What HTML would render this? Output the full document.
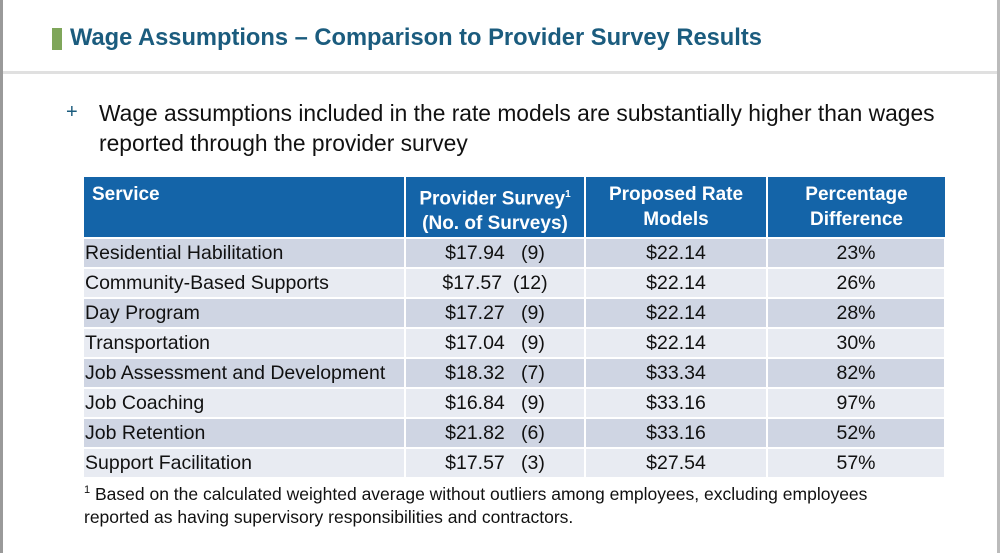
<!DOCTYPE html>
<html><head><meta charset="utf-8"><style>
body{margin:0;width:1000px;height:553px;background:#fff;position:relative;overflow:hidden;font-family:"Liberation Sans",sans-serif}
.abs{position:absolute}
table{border-collapse:collapse;position:absolute;left:84px;top:177px;width:861px;table-layout:fixed}
th{background:#1464a8;color:#fff;font-weight:bold;font-size:19px;height:61px;box-sizing:border-box;border-right:2px solid #fff;vertical-align:top;padding:5px 2px 0;line-height:25px}
td{font-size:19.5px;height:28px;line-height:26px;border-right:2px solid #fff;border-top:2px solid #fff;padding:0 1px;color:#111;text-align:center;white-space:nowrap}
td:first-child{text-align:left}
tr:nth-child(even) td{background:#cfd5e3}
tr:nth-child(odd) td{background:#e8ebf2}
</style></head><body>
<div class="abs" style="left:0;top:0;width:3px;height:553px;background:#9a9a9a"></div>
<div class="abs" style="left:997px;top:0;width:3px;height:553px;background:#bbb"></div>
<div class="abs" style="left:52px;top:28px;width:10px;height:22px;background:#7fa65a"></div>
<div class="abs" style="left:70px;top:25px;font-size:23.7px;font-weight:bold;color:#1b5c7e;white-space:nowrap">Wage Assumptions – Comparison to Provider Survey Results</div>
<div class="abs" style="left:3px;top:71px;width:994px;height:3px;background:#e0e0e0"></div>
<div class="abs" style="left:66px;top:101px;font-size:20px;color:#1b5c7e">+</div>
<div class="abs" style="left:99px;top:98px;font-size:22.8px;line-height:30px;color:#111;width:880px">Wage assumptions included in the rate models are substantially higher than wages reported through the provider survey</div>
<table>
<colgroup><col style="width:321px"><col style="width:180px"><col style="width:182px"><col style="width:178px"></colgroup>
<tr><th style="text-align:left;padding-left:8px">Service</th><th>Provider Survey<sup style="font-size:10px">1</sup><br>(No. of Surveys)</th><th>Proposed Rate<br>Models</th><th style="border-right:none">Percentage<br>Difference</th></tr>
<tr><td>Residential Habilitation</td><td>$17.94&nbsp;&nbsp;&nbsp;(9)</td><td>$22.14</td><td>23%</td></tr>
<tr><td>Community-Based Supports</td><td>$17.57&nbsp;&nbsp;(12)</td><td>$22.14</td><td>26%</td></tr>
<tr><td>Day Program</td><td>$17.27&nbsp;&nbsp;&nbsp;(9)</td><td>$22.14</td><td>28%</td></tr>
<tr><td>Transportation</td><td>$17.04&nbsp;&nbsp;&nbsp;(9)</td><td>$22.14</td><td>30%</td></tr>
<tr><td>Job Assessment and Development</td><td>$18.32&nbsp;&nbsp;&nbsp;(7)</td><td>$33.34</td><td>82%</td></tr>
<tr><td>Job Coaching</td><td>$16.84&nbsp;&nbsp;&nbsp;(9)</td><td>$33.16</td><td>97%</td></tr>
<tr><td>Job Retention</td><td>$21.82&nbsp;&nbsp;&nbsp;(6)</td><td>$33.16</td><td>52%</td></tr>
<tr><td>Support Facilitation</td><td>$17.57&nbsp;&nbsp;&nbsp;(3)</td><td>$27.54</td><td>57%</td></tr>
</table>
<div class="abs" style="left:84px;top:479px;font-size:17.5px;line-height:23px;color:#111;width:815px"><sup style="font-size:11px">1</sup> Based on the calculated weighted average without outliers among employees, excluding employees reported as having supervisory responsibilities and contractors.</div>
</body></html>
